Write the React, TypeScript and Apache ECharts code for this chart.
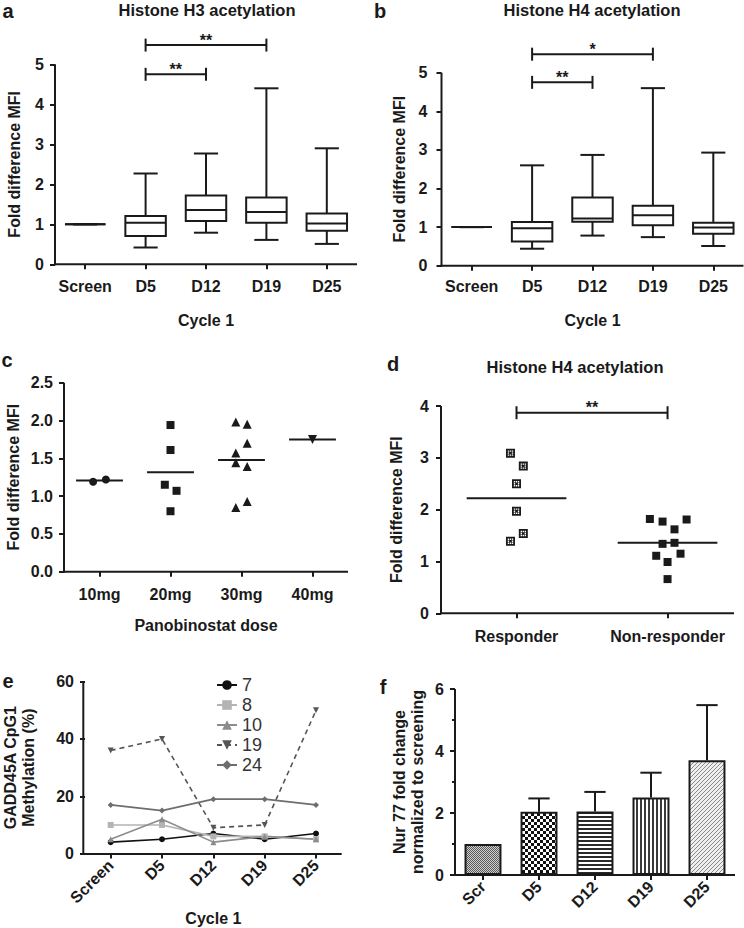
import React, { useEffect, useRef } from "react";
import * as echarts from "echarts";

const FONT = '"Liberation Sans", Arial, Helvetica, sans-serif';
const INK = "#1a1a1a";

// ---------- Panels a / b : box plots  [min, Q1, median, Q3, max]
const cycleDays = ["Screen", "D5", "D12", "D19", "D25"];
const h3Boxes = [
  [1, 1, 1, 1, 1],
  [0.42, 0.71, 1.04, 1.21, 2.27],
  [0.79, 1.08, 1.36, 1.72, 2.77],
  [0.61, 1.04, 1.31, 1.67, 4.4],
  [0.51, 0.84, 1.02, 1.27, 2.9],
];
const h4Boxes = [
  [1, 1, 1, 1, 1],
  [0.44, 0.63, 0.97, 1.13, 2.6],
  [0.78, 1.14, 1.22, 1.77, 2.87],
  [0.74, 1.05, 1.31, 1.55, 4.6],
  [0.51, 0.83, 0.99, 1.11, 2.93],
];
// [from category, to category, height]
const h3Pairs = [[1, 2, 4.75], [1, 3, 5.48]];
const h3Stars = ["**", "**"];
const h4Pairs = [[1, 2, 4.75], [1, 3, 5.48]];
const h4Stars = ["**", "*"];

// ---------- Panel c : dose
const doseLabels = ["10mg", "20mg", "30mg", "40mg"];
const dose10mg = [1.19, 1.22];
const dose10mgJitter = [-0.09, 0.09];
const dose20mg = [1.94, 1.61, 1.15, 1.07, 0.8];
const dose20mgJitter = [0, 0, -0.08, 0.085, 0];
const dose30mg = [1.98, 1.95, 1.7, 1.57, 1.44, 1.39, 0.93, 0.85];
const dose30mgJitter = [-0.08, 0.08, 0.08, -0.08, -0.08, 0.08, 0.08, -0.08];
const dose40mg = [1.75];
const dose40mgJitter = [0];

// ---------- Panel d : response
const responseLabels = ["Responder", "Non-responder"];
const responderValues = [3.09, 2.84, 2.5, 1.97, 1.54, 1.39];
const responderJitter = [-0.04, 0.045, 0, 0, 0.045, -0.04];
const nonResponderValues = [1.82, 1.77, 1.81, 1.62, 1.34, 1.36, 1.11, 1.15, 0.99, 0.66];
const nonResponderJitter = [-0.117, -0.033, 0.126, 0.046, -0.033, 0.046, -0.075, 0.086, 0, 0];
const responsePairs = [[0, 1, 3.87]];
const responseStars = ["**"];

// ---------- Panel e : methylation
const methDays = ["Screen", "D5", "D12", "D19", "D25"];
const meth7 = [4, 5, 7, 5, 7];
const meth8 = [10, 10, 6, 6, 5];
const meth10 = [5, 12, 4, 6, 5];
const meth19 = [36, 40, 9, 10, 50];
const meth24 = [17, 15, 19, 19, 17];

// ---------- Panel f : Nur77
const nurDays = ["Scr", "D5", "D12", "D19", "D25"];
const nurMean = [1.0, 2.04, 2.05, 2.5, 3.7];
const nurErrTop = [null, 2.47, 2.68, 3.3, 5.48];

// panel layout (plot rectangles)
const LAYOUT = [
  { left: 55, top: 64.3, width: 302, height: 200 },
  { left: 441.5, top: 72.7, width: 302, height: 193 },
  { left: 64, top: 382.7, width: 284, height: 189 },
  { left: 441, top: 406, width: 293, height: 207.3 },
  { left: 83.3, top: 681.7, width: 258.4, height: 172.3 },
  { left: 455, top: 689, width: 280, height: 186 },
];

const mean = (a: number[]) => a.reduce((s, v) => s + v, 0) / a.length;

const tickFont = () => ({ color: INK, fontSize: 16, fontWeight: "bold", fontFamily: FONT });
const nameFont = () => ({ color: INK, fontSize: 16, fontWeight: "bold", fontFamily: FONT, lineHeight: 18 });
const lineSt = () => ({ color: INK, width: 2 });

function catValueX(gridIndex: number, cats: string[], max: number, margin: number, name: string, nameGap: number) {
  const idx = cats.map((_, i) => i);
  return {
    type: "value",
    gridIndex,
    min: -0.5,
    max,
    axisLine: { show: false, onZero: false },
    axisTick: { show: true, customValues: idx, length: 5, lineStyle: lineSt() },
    axisLabel: { customValues: idx, formatter: (v: number) => cats[Math.round(v)] ?? "", margin, ...tickFont() },
    splitLine: { show: false },
    name,
    nameLocation: "middle",
    nameGap,
    nameTextStyle: nameFont(),
  };
}

function catX(gridIndex: number, cats: string[], name: string, nameGap: number) {
  return {
    type: "category",
    gridIndex,
    data: cats,
    boundaryGap: true,
    axisLine: { show: false, onZero: false },
    axisTick: { show: true, alignWithLabel: true, length: 5, lineStyle: lineSt() },
    axisLabel: { rotate: 45, margin: 9, interval: 0, ...tickFont() },
    splitLine: { show: false },
    name,
    nameLocation: "middle",
    nameGap,
    nameTextStyle: nameFont(),
  };
}

function valY(gridIndex: number, max: number, interval: number, name: string, nameGap: number, margin: number, extra: any = {}) {
  return {
    type: "value",
    gridIndex,
    min: 0,
    max,
    interval,
    axisLine: { show: false, onZero: false },
    axisTick: { show: true, length: 5, lineStyle: lineSt() },
    axisLabel: { margin, ...tickFont(), ...(extra.axisLabel || {}) },
    splitLine: { show: false },
    minorTick: extra.minorTick || { show: false },
    name,
    nameLocation: "middle",
    nameGap,
    nameTextStyle: nameFont(),
  };
}

function boxRenderer(params: any, api: any) {
  const x = api.value(0);
  const [pMin, pQ1, pMed, pQ3, pMax] = [1, 2, 3, 4, 5].map((i) => api.coord([x, api.value(i)]));
  const band = api.size([1, 0])[0];
  const half = band * 0.335;
  const cap = band * 0.2;
  const cx = pMin[0];
  const st = { stroke: INK, lineWidth: 2 };
  return {
    type: "group",
    children: [
      { type: "line", shape: { x1: cx, y1: pMax[1], x2: cx, y2: pQ3[1] }, style: st },
      { type: "line", shape: { x1: cx, y1: pQ1[1], x2: cx, y2: pMin[1] }, style: st },
      { type: "line", shape: { x1: cx - cap, y1: pMax[1], x2: cx + cap, y2: pMax[1] }, style: st },
      { type: "line", shape: { x1: cx - cap, y1: pMin[1], x2: cx + cap, y2: pMin[1] }, style: st },
      { type: "rect", shape: { x: cx - half, y: pQ3[1], width: half * 2, height: pQ1[1] - pQ3[1] }, style: { ...st, fill: "#fff" } },
      { type: "line", shape: { x1: cx - half, y1: pMed[1], x2: cx + half, y2: pMed[1] }, style: st },
    ],
  };
}

function bracketRenderer(stars: string[]) {
  return (params: any, api: any) => {
    const p1 = api.coord([api.value(0), api.value(2)]);
    const p2 = api.coord([api.value(1), api.value(2)]);
    const st = { stroke: INK, lineWidth: 2 };
    return {
      type: "group",
      children: [
        { type: "line", shape: { x1: p1[0], y1: p1[1], x2: p2[0], y2: p2[1] }, style: st },
        { type: "line", shape: { x1: p1[0], y1: p1[1] - 6.5, x2: p1[0], y2: p1[1] + 6.5 }, style: st },
        { type: "line", shape: { x1: p2[0], y1: p2[1] - 6.5, x2: p2[0], y2: p2[1] + 6.5 }, style: st },
        {
          type: "text",
          x: (p1[0] + p2[0]) / 2,
          y: p1[1] - 5,
          style: {
            text: stars[params.dataIndex],
            fill: INK,
            font: `bold 16px ${FONT}`,
            textAlign: "center",
            textVerticalAlign: "middle",
            align: "center",
            verticalAlign: "middle",
          },
        },
      ],
    };
  };
}

function meanLineRenderer(params: any, api: any) {
  const p = api.coord([api.value(0), api.value(1)]);
  const half = api.size([1, 0])[0] * 0.33;
  return { type: "line", shape: { x1: p[0] - half, y1: p[1], x2: p[0] + half, y2: p[1] }, style: { stroke: INK, lineWidth: 2 } };
}

function errorRenderer(params: any, api: any) {
  const pLow = api.coord([api.value(0), api.value(1)]);
  const pHigh = api.coord([api.value(0), api.value(2)]);
  const cap = api.size([1, 0])[0] * 0.19;
  const st = { stroke: INK, lineWidth: 2 };
  return {
    type: "group",
    children: [
      { type: "line", shape: { x1: pLow[0], y1: pLow[1], x2: pHigh[0], y2: pHigh[1] }, style: st },
      { type: "line", shape: { x1: pHigh[0] - cap, y1: pHigh[1], x2: pHigh[0] + cap, y2: pHigh[1] }, style: st },
    ],
  };
}

function makePattern(w: number, h: number, draw: (ctx: CanvasRenderingContext2D) => void) {
  const c = document.createElement("canvas");
  c.width = w;
  c.height = h;
  const ctx = c.getContext("2d")!;
  draw(ctx);
  return { image: c.toDataURL(), repeat: "repeat", imageWidth: w, imageHeight: h };
}

function buildPatterns() {
  const scr = makePattern(2, 2, (g) => {
    g.fillStyle = "#cfcfcf"; g.fillRect(0, 0, 2, 2);
    g.fillStyle = "#5a5a5a"; g.fillRect(0, 0, 1, 1); g.fillRect(1, 1, 1, 1);
  });
  const checker = makePattern(6, 6, (g) => {
    g.fillStyle = "#ffffff"; g.fillRect(0, 0, 6, 6);
    g.fillStyle = "#111111"; g.fillRect(0, 0, 3, 3); g.fillRect(3, 3, 3, 3);
  });
  const horiz = makePattern(4, 4, (g) => {
    g.fillStyle = "#ffffff"; g.fillRect(0, 0, 4, 4);
    g.fillStyle = "#2a2a2a"; g.fillRect(0, 0, 4, 2);
  });
  const vert = makePattern(4, 4, (g) => {
    g.fillStyle = "#ffffff"; g.fillRect(0, 0, 4, 4);
    g.fillStyle = "#3a3a3a"; g.fillRect(0, 0, 2, 4);
  });
  const diag = makePattern(4, 4, (g) => {
    g.fillStyle = "#eeeeee"; g.fillRect(0, 0, 4, 4);
    g.fillStyle = "#8a8a8a";
    for (let i = 0; i < 4; i++) g.fillRect(3 - i, i, 1, 1);
  });
  return [scr, checker, horiz, vert, diag];
}

// dark square with a ring of small light holes (dotted marker)
const responderSymbol =
  "path://M0,0H10V10H0Z M2,2V3.5H3.5V2Z M6.5,2V3.5H8V2Z M2,6.5V8H3.5V6.5Z M6.5,6.5V8H8V6.5Z M4.25,2V3.5H5.75V2Z M4.25,6.5V8H5.75V6.5Z M2,4.25V5.75H3.5V4.25Z M6.5,4.25V5.75H8V4.25Z";

function buildOption() {
  const patterns = buildPatterns();
  const txt = (text: string, x: number, y: number, size: number) => ({
    type: "text",
    x,
    y,
    z: 100,
    style: {
      text,
      fill: INK,
      font: `bold ${size}px ${FONT}`,
      textAlign: "center",
      textVerticalAlign: "middle",
      align: "center",
      verticalAlign: "middle",
    },
  });
  // axis lines along the left and bottom edge of every plot rectangle (thin filled bars)
  const axisFrames = LAYOUT.flatMap((g) => [
    { type: "rect", z: 100, silent: true, shape: { x: g.left - 1, y: g.top, width: 2, height: g.height + 1 }, style: { fill: INK } },
    { type: "rect", z: 100, silent: true, shape: { x: g.left - 1, y: g.top + g.height - 1, width: g.width + 1, height: 2 }, style: { fill: INK } },
  ]);
  const scatterBase = (xi: number, name: string) => ({
    type: "scatter",
    name,
    xAxisIndex: xi,
    yAxisIndex: xi,
    itemStyle: { color: INK, opacity: 1 },
    z: 3,
  });
  const lineBase = (name: string, data: number[], color: string, symbol: string, extra: any = {}) => ({
    type: "line",
    name,
    xAxisIndex: 4,
    yAxisIndex: 4,
    data,
    symbol,
    symbolSize: 6,
    itemStyle: { color },
    lineStyle: { color, width: 1.6, ...(extra.lineStyle || {}) },
    ...(extra.series || {}),
  });

  return {
    animation: false,
    backgroundColor: "#ffffff",
    textStyle: { fontFamily: FONT },
    grid: LAYOUT.map((g) => ({ ...g })),
    xAxis: [
      catValueX(0, cycleDays, 4.5, 14, "Cycle 1", 47),
      catValueX(1, cycleDays, 4.5, 13, "Cycle 1", 45.5),
      catValueX(2, doseLabels, 3.5, 15, "Panobinostat dose", 45),
      catValueX(3, responseLabels, 1.44, 15, "", 0),
      catX(4, methDays, "Cycle 1", 50),
      catX(5, nurDays, "", 0),
    ],
    yAxis: [
      valY(0, 5, 1, "Fold difference MFI", 32, 11),
      valY(1, 5, 1, "Fold difference MFI", 33.5, 14),
      valY(2, 2.5, 0.5, "Fold difference MFI", 42, 11, { axisLabel: { formatter: (v: number) => v.toFixed(1) } }),
      valY(3, 4, 1, "Fold difference MFI", 36, 12),
      valY(4, 60, 20, "GADD45A CpG1\nMethylation (%)", 48, 11),
      valY(5, 6, 2, "Nur 77 fold change\nnormalized to screening", 29, 11, {
        minorTick: { show: true, splitNumber: 2, length: 3, lineStyle: lineSt() },
      }),
    ],
    legend: {
      orient: "vertical",
      left: 216,
      top: 676,
      padding: 0,
      itemWidth: 20,
      itemHeight: 12,
      itemGap: 2,
      data: ["7", "8", "10", "19", "24"],
      textStyle: { fontSize: 18, color: "#333", fontFamily: FONT, lineHeight: 18 },
    },
    graphic: [
      ...axisFrames,
      txt("a", 8, 11, 20),
      txt("b", 380, 11, 20),
      txt("c", 7, 360, 20),
      txt("d", 393, 364, 20),
      txt("e", 8, 681, 20),
      txt("f", 383, 687, 20),
      txt("Histone H3 acetylation", 207, 10, 16.5),
      txt("Histone H4 acetylation", 592, 10, 16.5),
      txt("Histone H4 acetylation", 575, 366.7, 16.5),
    ],
    series: [
      // a
      {
        type: "custom", xAxisIndex: 0, yAxisIndex: 0, clip: false,
        encode: { x: 0, y: [1, 2, 3, 4, 5] },
        data: h3Boxes.map((b, i) => [i, ...b]),
        renderItem: boxRenderer,
      },
      {
        type: "custom", xAxisIndex: 0, yAxisIndex: 0, clip: false,
        encode: { x: [0, 1], y: 2 },
        data: h3Pairs,
        renderItem: bracketRenderer(h3Stars),
      },
      // b
      {
        type: "custom", xAxisIndex: 1, yAxisIndex: 1, clip: false,
        encode: { x: 0, y: [1, 2, 3, 4, 5] },
        data: h4Boxes.map((b, i) => [i, ...b]),
        renderItem: boxRenderer,
      },
      {
        type: "custom", xAxisIndex: 1, yAxisIndex: 1, clip: false,
        encode: { x: [0, 1], y: 2 },
        data: h4Pairs,
        renderItem: bracketRenderer(h4Stars),
      },
      // c
      { ...scatterBase(2, "10mg"), symbol: "circle", symbolSize: 8, data: dose10mg.map((v, i) => [0 + dose10mgJitter[i], v]) },
      { ...scatterBase(2, "20mg"), symbol: "rect", symbolSize: 8, data: dose20mg.map((v, i) => [1 + dose20mgJitter[i], v]) },
      { ...scatterBase(2, "30mg"), symbol: "triangle", symbolSize: 9, data: dose30mg.map((v, i) => [2 + dose30mgJitter[i], v]) },
      { ...scatterBase(2, "40mg"), symbol: "triangle", symbolRotate: 180, symbolSize: 9, data: dose40mg.map((v, i) => [3 + dose40mgJitter[i], v]) },
      {
        type: "custom", xAxisIndex: 2, yAxisIndex: 2, clip: false,
        data: [dose10mg, dose20mg, dose30mg, dose40mg].map((a, i) => [i, mean(a)]),
        renderItem: meanLineRenderer,
      },
      // d
      { ...scatterBase(3, "Responder"), symbol: responderSymbol, symbolSize: 9, data: responderValues.map((v, i) => [0 + responderJitter[i], v]) },
      { ...scatterBase(3, "Non-responder"), symbol: "rect", symbolSize: 8, data: nonResponderValues.map((v, i) => [1 + nonResponderJitter[i], v]) },
      {
        type: "custom", xAxisIndex: 3, yAxisIndex: 3, clip: false,
        data: [responderValues, nonResponderValues].map((a, i) => [i, mean(a)]),
        renderItem: meanLineRenderer,
      },
      {
        type: "custom", xAxisIndex: 3, yAxisIndex: 3, clip: false,
        encode: { x: [0, 1], y: 2 },
        data: responsePairs,
        renderItem: bracketRenderer(responseStars),
      },
      // e
      lineBase("7", meth7, "#111111", "circle"),
      lineBase("8", meth8, "#b4b4b4", "rect"),
      lineBase("10", meth10, "#8c8c8c", "triangle"),
      lineBase("19", meth19, "#555555", "triangle", { lineStyle: { type: [5, 4] }, series: { symbolRotate: 180 } }),
      lineBase("24", meth24, "#6e6e6e", "diamond"),
      // f
      {
        type: "bar",
        xAxisIndex: 5,
        yAxisIndex: 5,
        barWidth: "66%",
        data: nurMean.map((v, i) => ({ value: v, itemStyle: { color: patterns[i] } })),
        itemStyle: { borderColor: INK, borderWidth: 2 },
      },
      {
        type: "custom", xAxisIndex: 5, yAxisIndex: 5, clip: false, z: 3,
        data: nurMean
          .map((v, i) => [i, v, nurErrTop[i]])
          .filter((d) => d[2] != null),
        renderItem: errorRenderer,
      },
    ],
  };
}

export default function App() {
  const ref = useRef<HTMLDivElement>(null);
  useEffect(() => {
    const chart = echarts.init(ref.current!, null, { renderer: "svg" });
    chart.setOption(buildOption() as any);
    return () => chart.dispose();
  }, []);
  return (
    <div
      ref={ref}
      style={{ position: "absolute", left: 0, top: 0, width: 744, height: 928, background: "#fff" }}
    />
  );
}
